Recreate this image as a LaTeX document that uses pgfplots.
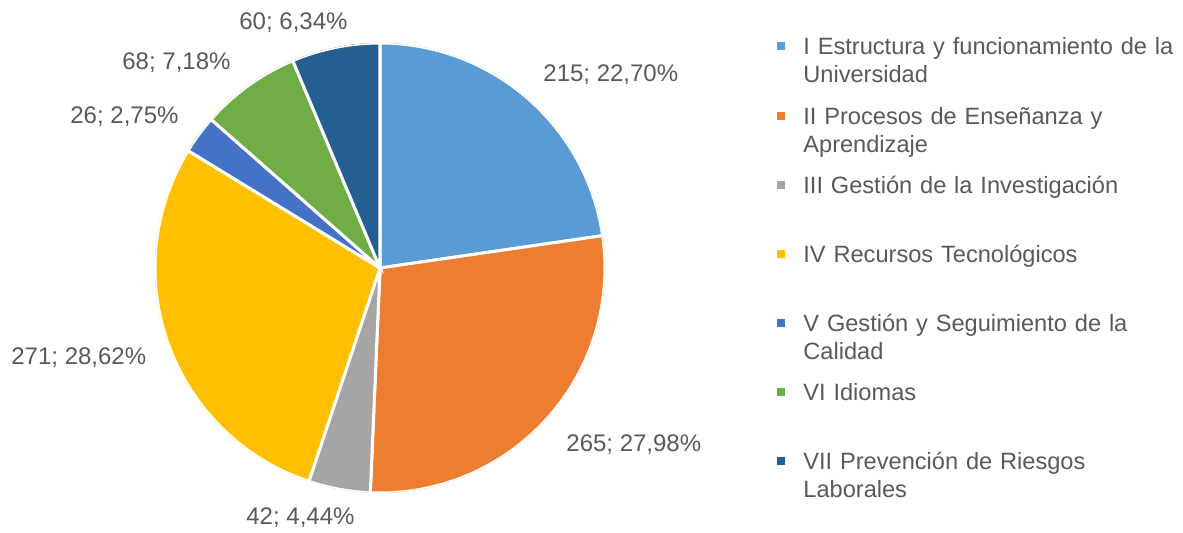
\documentclass[border=0pt]{standalone}
\usepackage{fontspec}
\setmainfont{Liberation Sans}
\usepackage{pgfplots}
\pgfplotsset{compat=1.18}
\usepgfplotslibrary{polar}

\definecolor{cI}{HTML}{5B9BD5}
\definecolor{cII}{HTML}{ED7D31}
\definecolor{cIII}{HTML}{A5A5A5}
\definecolor{cIV}{HTML}{FFC000}
\definecolor{cV}{HTML}{4472C4}
\definecolor{cVI}{HTML}{70AD47}
\definecolor{cVII}{HTML}{255E91}
\definecolor{txt}{HTML}{595959}

\newcommand\chartfont{\fontsize{12}{14}\selectfont}
\newcommand\legfont{\fontsize{11.8}{14}\selectfont}

% counts per block
\def\nI{215}
\def\nII{265}
\def\nIII{42}
\def\nIV{271}
\def\nV{26}
\def\nVI{68}
\def\nVII{60}
\pgfmathsetmacro\tot{\nI+\nII+\nIII+\nIV+\nV+\nVI+\nVII}
% slice edges, clockwise from 12 o'clock
\pgfmathsetmacro\aA{90}
\pgfmathsetmacro\aB{\aA-\nI/\tot*360}
\pgfmathsetmacro\aC{\aB-\nII/\tot*360}
\pgfmathsetmacro\aD{\aC-\nIII/\tot*360}
\pgfmathsetmacro\aE{\aD-\nIV/\tot*360}
\pgfmathsetmacro\aF{\aE-\nV/\tot*360}
\pgfmathsetmacro\aG{\aF-\nVI/\tot*360}
\pgfmathsetmacro\aH{\aG-\nVII/\tot*360}

\begin{document}
\begin{tikzpicture}
\path[use as bounding box] (0,0) rectangle (591.5pt,266.5pt);
\begin{polaraxis}[
    at={(77.5pt,20pt)}, anchor=south west,
    scale only axis, width=225pt, height=225pt,
    hide axis,
    xmin=0, xmax=360, ymin=0, ymax=1,
    enlargelimits=false,
    legend style={
        at={(axis description cs:1.37778,1.01444)}, anchor=north west,
        draw=none, fill=none, inner sep=0pt, row sep=0pt,
        font=\legfont, text=txt,
        cells={anchor=base west},
        nodes={text width=200pt, align=left, inner sep=0pt,
               text height=9pt, text depth=25.57pt},
    },
    legend image code/.code={
        \fill[#1,draw=none] (0pt,2.2pt) rectangle (4pt,6.2pt);
        \path (0pt,0pt) -- (12.5pt,0pt);
    },
]
\addplot[fill=cI, draw=white, line width=1.5pt, domain=\aB:\aA, samples=60] {1} -- (0,0) -- cycle;
\addlegendentry{I Estructura y funcionamiento de la\\Universidad}
\addplot[fill=cII, draw=white, line width=1.5pt, domain=\aC:\aB, samples=60] {1} -- (0,0) -- cycle;
\addlegendentry{II Procesos de Enseñanza y\\Aprendizaje}
\addplot[fill=cIII, draw=white, line width=1.5pt, domain=\aD:\aC, samples=20] {1} -- (0,0) -- cycle;
\addlegendentry{III Gestión de la Investigación}
\addplot[fill=cIV, draw=white, line width=1.5pt, domain=\aE:\aD, samples=60] {1} -- (0,0) -- cycle;
\addlegendentry{IV Recursos Tecnológicos}
\addplot[fill=cV, draw=white, line width=1.5pt, domain=\aF:\aE, samples=20] {1} -- (0,0) -- cycle;
\addlegendentry{V Gestión y Seguimiento de la\\Calidad}
\addplot[fill=cVI, draw=white, line width=1.5pt, domain=\aG:\aF, samples=30] {1} -- (0,0) -- cycle;
\addlegendentry{VI Idiomas}
\addplot[fill=cVII, draw=white, line width=1.5pt, domain=\aH:\aG, samples=30] {1} -- (0,0) -- cycle;
\addlegendentry{VII Prevención de Riesgos\\Laborales}
\end{polaraxis}
\begin{scope}[every node/.style={font=\chartfont, text=txt, inner sep=0pt, anchor=base west}]
\node at (271.5pt,225.85pt) {215; 22,70\%};
\node at (283pt,40.65pt) {265; 27,98\%};
\node at (123pt,4pt) {42; 4,44\%};
\node at (5.5pt,84pt) {271; 28,62\%};
\node at (35pt,204.5pt) {26; 2,75\%};
\node at (61pt,231.85pt) {68; 7,18\%};
\node at (119.5pt,251.85pt) {60; 6,34\%};
\end{scope}
\end{tikzpicture}
\end{document}
